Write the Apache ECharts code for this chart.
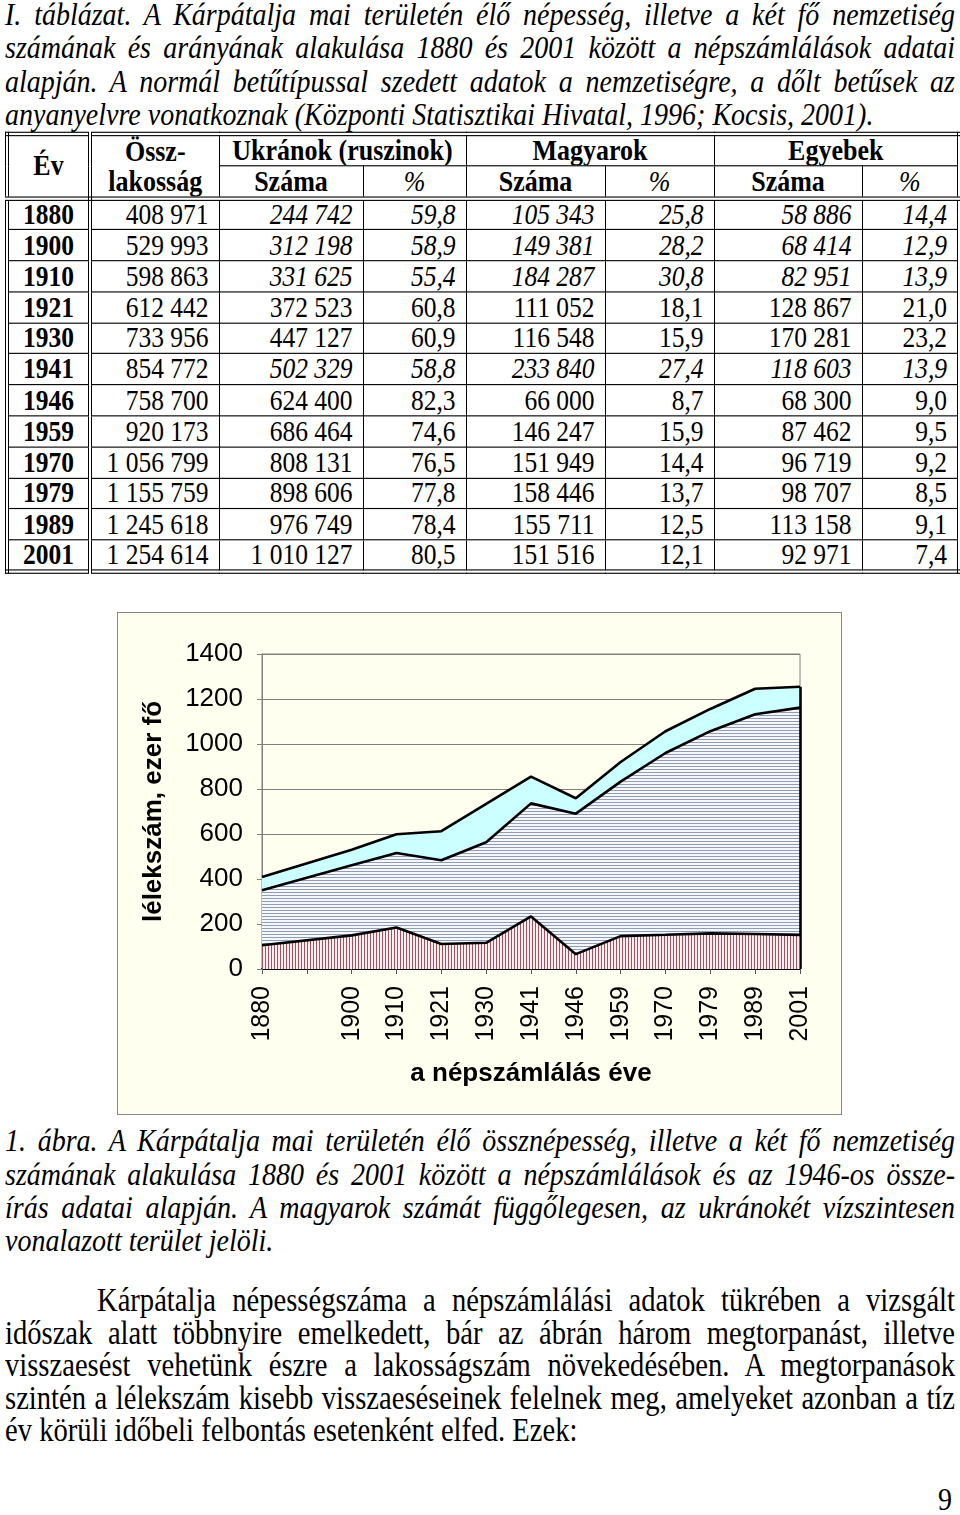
<!DOCTYPE html>
<html><head><meta charset="utf-8">
<script src="https://cdn.jsdelivr.net/npm/echarts@6/dist/echarts.min.js"></script>
<style>
html,body{margin:0;padding:0;background:#fff}
body{width:960px;height:1515px;position:relative;overflow:hidden;font-family:'Liberation Serif','Times New Roman',serif;color:#000}
.page{position:absolute;left:0;top:0;width:960px;height:1357px;transform:scaleY(1.1164);transform-origin:0 0}
.blk{position:absolute;left:5px;width:950px}
.ln{text-align:justify;text-align-last:justify;white-space:normal}
.ln.last{text-align-last:left}
.it{font-style:italic}
#title,#caption{font-size:28px;line-height:30px;font-style:italic}
#title{top:-1.6px}
#caption{top:1007px}
#body{top:1150px;font-size:28.6px;line-height:29px}
#body .ln{transform:scaleY(1.07);transform-origin:50% 50%}
#pnum{position:absolute;right:8px;top:1329px;font-size:28px;line-height:29px}
table{position:absolute;left:5px;top:117.8px;width:952px;height:387px;border-collapse:collapse;table-layout:fixed;border:4px double #000}
td{border:1px solid #000;padding:0 10px 0 0;text-align:right;font-size:25.5px;line-height:1;white-space:nowrap;overflow:hidden}
td.yr{text-align:center;font-weight:bold;padding:0;border-right:4px double #000}
tr.hd td{text-align:center;font-weight:bold;font-size:26px;padding:0}
tr.hd2 td{border-bottom:4px double #000}
td.pc{font-weight:normal !important;font-style:italic}
#chartBox{position:absolute;left:117px;top:612px;width:725px;height:503px;border:1px solid #888;box-sizing:border-box;background:#FFFFF0}
#chart{width:723px;height:501px}
</style></head>
<body>
<div class="page">
  <div id="title" class="blk">
    <div class="ln">I. táblázat. A Kárpátalja mai területén élő népesség, illetve a két fő nemzetiség</div>
    <div class="ln">számának és arányának alakulása 1880 és 2001 között a népszámlálások adatai</div>
    <div class="ln">alapján. A normál betűtípussal szedett adatok a nemzetiségre, a dőlt betűsek az</div>
    <div class="ln last">anyanyelvre vonatkoznak (Központi Statisztikai Hivatal, 1996; Kocsis, 2001).</div>
  </div>
  <table id="tbl">
    <colgroup><col style="width:83px"><col style="width:129px"><col style="width:144px"><col style="width:103px"><col style="width:139px"><col style="width:109px"><col style="width:148px"><col style="width:97px"></colgroup>
    <tbody id="tbody">
      <tr class="hd" style="height:26.5px"><td class="yr" rowspan="2" style="border-bottom:4px double #000">Év</td><td rowspan="2" style="border-bottom:4px double #000;line-height:27px">Össz-<br>lakosság</td><td colspan="2">Ukránok (ruszinok)</td><td colspan="2">Magyarok</td><td colspan="2">Egyebek</td></tr>
      <tr class="hd hd2" style="height:26px"><td>Száma</td><td class="pc">%</td><td>Száma</td><td class="pc">%</td><td>Száma</td><td class="pc">%</td></tr>
    </tbody>
  </table>
  <div id="caption" class="blk">
    <div class="ln">1. ábra. A Kárpátalja mai területén élő össznépesség, illetve a két fő nemzetiség</div>
    <div class="ln">számának alakulása 1880 és 2001 között a népszámlálások és az 1946-os össze-</div>
    <div class="ln">írás adatai alapján. A magyarok számát függőlegesen, az ukránokét vízszintesen</div>
    <div class="ln last">vonalazott terület jelöli.</div>
  </div>
  <div id="body" class="blk">
    <div class="ln" style="padding-left:92px">Kárpátalja népességszáma a népszámlálási adatok tükrében a vizsgált</div>
    <div class="ln">időszak alatt többnyire emelkedett, bár az ábrán három megtorpanást, illetve</div>
    <div class="ln">visszaesést vehetünk észre a lakosságszám növekedésében. A megtorpanások</div>
    <div class="ln">szintén a lélekszám kisebb visszaeséseinek felelnek meg, amelyeket azonban a tíz</div>
    <div class="ln last">év körüli időbeli felbontás esetenként elfed. Ezek:</div>
  </div>
  <div id="pnum">9</div>
</div>
<div id="chartBox"><div id="chart"></div></div>
<script>
// ---- data ----
const tableYears = [1880,1900,1910,1921,1930,1941,1946,1959,1970,1979,1989,2001];
const totalPop = [408971,529993,598863,612442,733956,854772,758700,920173,1056799,1155759,1245618,1254614];
const ukrNum = [244742,312198,331625,372523,447127,502329,624400,686464,808131,898606,976749,1010127];
const ukrPct = [59.8,58.9,55.4,60.8,60.9,58.8,82.3,74.6,76.5,77.8,78.4,80.5];
const huNum = [105343,149381,184287,111052,116548,233840,66000,146247,151949,158446,155711,151516];
const huPct = [25.8,28.2,30.8,18.1,15.9,27.4,8.7,15.9,14.4,13.7,12.5,12.1];
const othNum = [58886,68414,82951,128867,170281,118603,68300,87462,96719,98707,113158,92971];
const othPct = [14.4,12.9,13.9,21.0,23.2,13.9,9.0,9.5,9.2,8.5,9.1,7.4];
const motherTongueYears = [1880,1900,1910,1941];
const chartCategories = ['1880','','1900','1910','1921','1930','1941','1946','1959','1970','1979','1989','2001'];
const yMin = 0, yMax = 1400, yStep = 200;

// ---- table ----
const fmtN = n => String(n).replace(/\B(?=(\d{3})+(?!\d))/g, ' ');
const fmtP = p => p.toFixed(1).replace('.', ',');
const tb = document.getElementById('tbody');
tableYears.forEach((y, i) => {
  const tr = document.createElement('tr');
  tr.style.height = '27.8px';
  const it = motherTongueYears.includes(y) ? ' class="it"' : '';
  tr.innerHTML = `<td class="yr">${y}</td><td>${fmtN(totalPop[i])}</td>` +
    `<td${it}>${fmtN(ukrNum[i])}</td><td${it}>${fmtP(ukrPct[i])}</td>` +
    `<td${it}>${fmtN(huNum[i])}</td><td${it}>${fmtP(huPct[i])}</td>` +
    `<td${it}>${fmtN(othNum[i])}</td><td${it}>${fmtP(othPct[i])}</td>`;
  tb.appendChild(tr);
});

// keep each text line on one line
document.querySelectorAll('.ln').forEach(el => {
  const lh = parseFloat(getComputedStyle(el).lineHeight);
  let fs = parseFloat(getComputedStyle(el).fontSize);
  while (el.offsetHeight > lh * 1.5 && fs > 10) { fs -= 0.25; el.style.fontSize = fs + 'px'; }
});

// ---- chart ----
function series(arr) {
  return chartCategories.map(c => {
    const i = tableYears.indexOf(Number(c));
    return (c === '' || i < 0) ? null : arr[i] / 1000;
  });
}
function stripes(vertical, line, bg) {
  const c = document.createElement('canvas');
  c.width = 3; c.height = 3;
  const ctx = c.getContext('2d');
  ctx.fillStyle = bg; ctx.fillRect(0, 0, 3, 3);
  ctx.fillStyle = line;
  if (vertical) ctx.fillRect(0, 0, 1, 3); else ctx.fillRect(0, 0, 3, 1);
  return c;
}
const lastCat = chartCategories[chartCategories.length - 1];
const lastTotal = totalPop[totalPop.length - 1] / 1000;
const font = "'Liberation Sans', Arial, sans-serif";
const chart = echarts.init(document.getElementById('chart'), null, {renderer: 'canvas'});
const common = {type: 'line', stack: 'pop', symbol: 'none', connectNulls: true, smooth: false,
  lineStyle: {color: '#000', width: 2.6}, emphasis: {disabled: true}};
chart.setOption({
  animation: false,
  backgroundColor: '#FFFFF0',
  grid: {left: 144, top: 41, width: 538, height: 315, show: true, borderColor: '#808080', borderWidth: 1},
  xAxis: {
    type: 'category', data: chartCategories, boundaryGap: false,
    axisLine: {lineStyle: {color: '#000', width: 2}},
    axisTick: {show: true, length: 5, lineStyle: {color: '#555'}, interval: 0},
    axisLabel: {rotate: 90, interval: 0, fontSize: 25, fontFamily: font, color: '#000', margin: 17},
    name: 'a népszámlálás éve', nameLocation: 'middle', nameGap: 92,
    nameTextStyle: {fontSize: 26, fontWeight: 'bold', fontFamily: font, color: '#000'},
    splitLine: {show: false}
  },
  yAxis: {
    type: 'value', min: yMin, max: yMax, interval: yStep,
    axisLine: {show: true, lineStyle: {color: '#808080'}},
    axisTick: {show: true, length: 5, lineStyle: {color: '#808080'}},
    axisLabel: {fontSize: 26, fontFamily: font, color: '#000', margin: 19, formatter: v => String(v)},
    splitLine: {lineStyle: {color: '#808080', width: 1}},
    name: 'lélekszám, ezer fő', nameLocation: 'middle', nameGap: 95,
    nameTextStyle: {fontSize: 26, fontWeight: 'bold', fontFamily: font, color: '#000'}
  },
  series: [
    Object.assign({}, common, {name: 'Magyarok', z: 5, data: series(huNum),
      areaStyle: {opacity: 1, color: {image: stripes(true, '#A4505C', '#FCEFF1'), repeat: 'repeat'}}}),
    Object.assign({}, common, {name: 'Ukránok', z: 4, data: series(ukrNum),
      areaStyle: {opacity: 1, color: {image: stripes(false, '#8E9CB8', '#F6F7FB'), repeat: 'repeat'}}}),
    Object.assign({}, common, {name: 'Egyebek', z: 3, data: series(othNum),
      areaStyle: {opacity: 1, color: '#CCFFFF'},
      markLine: {silent: true, symbol: 'none', label: {show: false},
        lineStyle: {color: '#000', width: 2.6, type: 'solid'},
        data: [[{coord: [lastCat, yMin]}, {coord: [lastCat, lastTotal]}]]}})
  ]
});
</script>
</body></html>
